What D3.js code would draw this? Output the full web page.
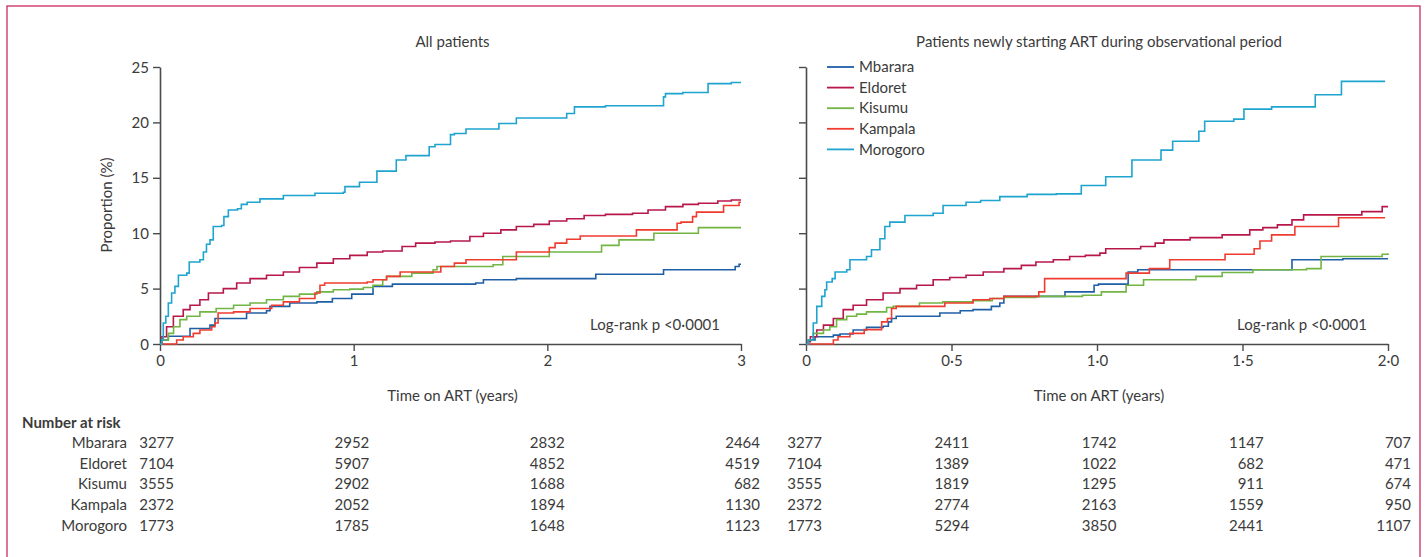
<!DOCTYPE html>
<html>
<head>
<meta charset="utf-8">
<script src="https://cdn.jsdelivr.net/npm/d3@7/dist/d3.min.js"></script>
<style>
  html, body { margin: 0; padding: 0; background: #fff; }
  svg { display: block; }
  text { font-family: Lato, "Open Sans", sans-serif; fill: #3b3b3b; }
</style>
</head>
<body>
<svg id="chart" width="1427" height="557"></svg>
<script>
// ---- Sites ----
const sites = ["Mbarara", "Eldoret", "Kisumu", "Kampala", "Morogoro"];
const siteColors = ["#1f5fa6", "#b8174a", "#72b545", "#f03c30", "#1ea4cf"];

// ---- Cumulative proportion (%) — all patients, time in years ----
const allMbarara = [[0,0],[0.009,0.36],[0.043,0.7],[0.155,1.4],[0.258,1.7],[0.284,2.3],[0.447,2.8],[0.55,3.0],[0.568,3.4],[0.67,3.7],[0.81,3.8],[0.89,4.1],[0.99,4.5],[1.10,5.2],[1.20,5.4],[1.63,5.5],[1.67,5.8],[1.84,5.9],[2.25,6.3],[2.60,6.7],[2.97,7.0],[2.99,7.2],[3.0,7.2]];
const allEldoret = [[0,0],[0.01,0.66],[0.034,1.56],[0.069,2.5],[0.12,3.1],[0.155,3.5],[0.206,4.0],[0.25,4.6],[0.327,5.0],[0.396,5.5],[0.465,5.9],[0.55,6.2],[0.637,6.5],[0.72,6.9],[0.81,7.3],[0.895,7.7],[0.98,8.0],[1.07,8.3],[1.15,8.4],[1.25,8.8],[1.32,9.1],[1.42,9.2],[1.50,9.3],[1.60,9.7],[1.67,10.0],[1.76,10.3],[1.84,10.6],[1.93,10.8],[2.01,11.1],[2.10,11.3],[2.19,11.6],[2.30,11.7],[2.44,11.8],[2.52,12.1],[2.61,12.4],[2.70,12.6],[2.78,12.7],[2.88,12.9],[2.95,13.0],[3.0,13.0]];
const allKisumu = [[0,0],[0.009,0.36],[0.043,0.96],[0.07,1.56],[0.103,2.2],[0.138,2.5],[0.206,2.9],[0.29,3.2],[0.38,3.5],[0.465,3.7],[0.55,4.0],[0.637,4.3],[0.72,4.5],[0.81,4.7],[0.895,4.9],[0.98,4.95],[1.05,5.1],[1.10,5.3],[1.15,5.8],[1.17,6.1],[1.30,6.4],[1.41,6.7],[1.43,7.0],[1.72,7.15],[1.77,7.9],[2.01,8.3],[2.28,8.9],[2.37,9.4],[2.55,10.0],[2.78,10.5],[3.0,10.5]];
const allKampala = [[0,0],[0.086,0.36],[0.12,0.66],[0.172,0.96],[0.206,1.26],[0.267,1.56],[0.284,1.9],[0.30,2.8],[0.38,2.9],[0.465,3.2],[0.577,3.5],[0.637,3.8],[0.72,4.1],[0.80,4.6],[0.826,5.3],[0.85,5.5],[1.07,5.6],[1.10,5.8],[1.17,6.1],[1.24,6.5],[1.45,7.0],[1.52,7.3],[1.58,7.6],[1.84,8.3],[2.01,8.7],[2.04,9.1],[2.10,9.45],[2.17,9.75],[2.46,10.3],[2.67,10.9],[2.69,11.0],[2.75,11.5],[2.77,11.9],[2.91,12.5],[2.99,12.8],[3.0,12.8]];
const allMorogoro = [[0,0],[0.009,0.36],[0.017,1.9],[0.03,2.5],[0.043,3.7],[0.06,4.6],[0.077,5.2],[0.095,6.2],[0.138,6.4],[0.151,7.4],[0.206,7.6],[0.224,8.3],[0.24,9.0],[0.258,9.4],[0.275,10.6],[0.318,10.7],[0.33,11.5],[0.353,12.1],[0.40,12.2],[0.42,12.6],[0.45,12.8],[0.516,13.1],[0.637,13.4],[0.80,13.6],[0.947,13.7],[0.955,14.2],[1.03,14.6],[1.12,15.6],[1.22,16.6],[1.27,17.0],[1.39,17.8],[1.42,18.0],[1.50,18.9],[1.52,19.0],[1.58,19.4],[1.75,19.9],[1.84,20.4],[2.10,20.8],[2.14,21.4],[2.30,21.5],[2.60,22.3],[2.61,22.6],[2.70,22.7],[2.83,23.5],[2.95,23.6],[3.0,23.6]];

// ---- Cumulative proportion (%) — patients newly starting ART ----
const newMbarara = [[0,0],[0.008,0.36],[0.031,0.66],[0.094,0.8],[0.117,0.9],[0.162,1.26],[0.208,1.5],[0.265,1.6],[0.283,2.0],[0.294,2.3],[0.31,2.5],[0.46,2.8],[0.53,3.0],[0.574,3.1],[0.637,3.4],[0.666,3.7],[0.68,4.3],[0.89,4.7],[0.99,5.3],[1.005,5.4],[1.107,6.5],[1.14,6.7],[1.67,7.6],[1.845,7.7],[2.0,7.7]];
const newEldoret = [[0,0],[0.008,0.2],[0.015,0.66],[0.037,1.26],[0.06,1.7],[0.094,2.3],[0.128,3.1],[0.162,3.5],[0.208,4.0],[0.265,4.6],[0.323,5.0],[0.38,5.3],[0.437,5.8],[0.494,6.0],[0.55,6.2],[0.609,6.5],[0.68,6.8],[0.74,7.1],[0.79,7.4],[0.85,7.6],[0.906,7.9],[0.96,8.0],[1.01,8.2],[1.03,8.6],[1.15,8.8],[1.20,9.1],[1.23,9.4],[1.32,9.6],[1.43,9.85],[1.525,10.3],[1.57,10.5],[1.62,10.75],[1.67,11.2],[1.71,11.65],[1.91,11.95],[1.98,12.4],[2.0,12.4]];
const newKisumu = [[0,0],[0.008,0.36],[0.025,0.96],[0.06,1.26],[0.082,1.56],[0.105,2.2],[0.14,2.5],[0.174,2.7],[0.208,2.9],[0.277,3.3],[0.30,3.4],[0.39,3.7],[0.47,3.8],[0.574,3.9],[0.64,4.1],[0.68,4.2],[0.79,4.3],[0.95,4.4],[1.015,4.7],[1.10,5.3],[1.16,5.8],[1.34,6.1],[1.43,6.45],[1.536,6.7],[1.72,6.8],[1.77,7.9],[1.98,8.1],[2.0,8.2]];
const newKampala = [[0,0],[0.094,0.36],[0.11,0.66],[0.151,0.96],[0.2,1.3],[0.26,2.0],[0.28,2.3],[0.294,3.2],[0.31,3.4],[0.477,3.7],[0.574,4.0],[0.632,4.1],[0.68,4.3],[0.80,4.7],[0.82,5.9],[1.10,6.4],[1.18,6.8],[1.25,7.6],[1.44,8.1],[1.54,8.6],[1.56,9.3],[1.60,9.85],[1.68,10.6],[1.83,11.4],[1.99,11.4]];
const newMorogoro = [[0,0],[0.008,0.36],[0.025,1.9],[0.037,3.4],[0.054,4.3],[0.065,4.9],[0.071,5.6],[0.09,5.9],[0.10,6.5],[0.14,6.7],[0.151,7.6],[0.208,7.9],[0.225,8.5],[0.254,9.5],[0.271,10.6],[0.288,11.0],[0.34,11.6],[0.437,11.8],[0.471,12.5],[0.55,12.8],[0.60,12.95],[0.666,13.3],[0.76,13.5],[0.86,13.55],[0.946,14.3],[1.03,15.1],[1.12,16.6],[1.22,17.5],[1.26,18.3],[1.35,19.2],[1.37,20.1],[1.47,20.3],[1.505,21.2],[1.60,21.4],[1.75,22.5],[1.84,23.7],[1.99,23.7]];

// ---- Number at risk ----
const riskTimesAll = [0, 1, 2, 3];
const riskAllMbarara = [3277, 2952, 2832, 2464];
const riskAllEldoret = [7104, 5907, 4852, 4519];
const riskAllKisumu = [3555, 2902, 1688, 682];
const riskAllKampala = [2372, 2052, 1894, 1130];
const riskAllMorogoro = [1773, 1785, 1648, 1123];

const riskTimesNew = [0, 0.5, 1, 1.5, 2];
const riskNewMbarara = [3277, 2411, 1742, 1147, 707];
const riskNewEldoret = [7104, 1389, 1022, 682, 471];
const riskNewKisumu = [3555, 1819, 1295, 911, 674];
const riskNewKampala = [2372, 2774, 2163, 1559, 950];
const riskNewMorogoro = [1773, 5294, 3850, 2441, 1107];

const yTicks = [0, 5, 10, 15, 20, 25];
const xTicksAll = [0, 1, 2, 3];
const xTicksNew = [0, 0.5, 1, 1.5, 2];

// ---- Drawing ----
const svg = d3.select("#chart");
const axisColor = "#4a4a4a";
const fontSize = 15;

// page frame
svg.append("rect")
  .attr("x", 7).attr("y", 6).attr("width", 1413).attr("height", 570)
  .attr("fill", "none").attr("stroke", "#cc2a60").attr("stroke-width", 1.3);

const y = d3.scaleLinear().domain([0, 25]).range([344, 67]);
const decimalTick = d => d === 0 ? "0" : d3.format(".1f")(d).replace(".", "·");

function panel(opts) {
  const x = d3.scaleLinear().domain(opts.domain).range(opts.range);
  const g = svg.append("g");

  // y axis
  const yAxis = d3.axisLeft(y).tickValues(yTicks).tickSize(7).tickSizeOuter(0)
    .tickFormat(opts.yLabels ? d3.format("d") : "");
  const ya = g.append("g").attr("transform", `translate(${opts.range[0]},0)`).call(yAxis);
  // x axis
  const xAxis = d3.axisBottom(x).tickValues(opts.xTicks).tickSize(7).tickSizeOuter(0)
    .tickFormat(opts.tickFormat);
  const xa = g.append("g").attr("transform", `translate(0,${y(0)})`).call(xAxis);

  [ya, xa].forEach(a => {
    a.select(".domain").attr("stroke", axisColor).attr("stroke-width", 1.6);
    a.selectAll(".tick line").attr("stroke", axisColor).attr("stroke-width", 1.4);
    a.selectAll(".tick text").attr("fill", "#3b3b3b")
      .style("font-family", "Lato, sans-serif").style("font-size", fontSize + "px");
  });
  ya.selectAll(".tick text").attr("x", -11).attr("dy", "0.34em");
  xa.selectAll(".tick text").attr("y", 11);

  // step curves
  const line = d3.line().x(d => x(d[0])).y(d => y(d[1])).curve(d3.curveStepAfter);
  opts.curves.forEach((c, i) => {
    g.append("path").datum(c).attr("d", line)
      .attr("fill", "none").attr("stroke", siteColors[i])
      .attr("stroke-width", 1.6).attr("stroke-linejoin", "miter");
  });

  // titles
  const cx = (opts.range[0] + opts.range[1]) / 2;
  g.append("text").attr("x", cx + 2).attr("y", 47).attr("text-anchor", "middle")
    .style("font-size", fontSize + "px").text(opts.title);
  g.append("text").attr("x", cx + 2).attr("y", 401).attr("text-anchor", "middle")
    .style("font-size", fontSize + "px").text("Time on ART (years)");
  g.append("text").attr("x", opts.range[1] - 21).attr("y", 330).attr("text-anchor", "end")
    .style("font-size", fontSize + "px").text("Log-rank p <0·0001");

  // number-at-risk table
  const rx = d3.scaleLinear().domain(opts.domain).range(opts.riskRange);
  opts.risk.forEach((row, i) => {
    g.selectAll(null).data(row).join("text")
      .attr("x", (d, j) => rx(opts.riskTimes[j]))
      .attr("y", 448 + i * 20.7)
      .attr("text-anchor", "end")
      .style("font-size", fontSize + "px")
      .text(d => d);
  });
  return g;
}

panel({
  domain: [0, 3], range: [160, 741], xTicks: xTicksAll, tickFormat: d3.format("d"),
  yLabels: true, title: "All patients",
  curves: [allMbarara, allEldoret, allKisumu, allKampala, allMorogoro],
  riskTimes: riskTimesAll, riskRange: [174, 760],
  risk: [riskAllMbarara, riskAllEldoret, riskAllKisumu, riskAllKampala, riskAllMorogoro]
});

panel({
  domain: [0, 2], range: [806, 1388], xTicks: xTicksNew, tickFormat: decimalTick,
  yLabels: false, title: "Patients newly starting ART during observational period",
  curves: [newMbarara, newEldoret, newKisumu, newKampala, newMorogoro],
  riskTimes: riskTimesNew, riskRange: [822, 1411],
  risk: [riskNewMbarara, riskNewEldoret, riskNewKisumu, riskNewKampala, riskNewMorogoro]
});

// y-axis title
svg.append("text")
  .attr("transform", "translate(112,205) rotate(-90)")
  .attr("text-anchor", "middle")
  .style("font-size", fontSize + "px")
  .text("Proportion (%)");

// legend
const legend = svg.append("g");
sites.forEach((s, i) => {
  const ly = 67 + i * 20.6;
  legend.append("line").attr("x1", 827).attr("x2", 854).attr("y1", ly).attr("y2", ly)
    .attr("stroke", siteColors[i]).attr("stroke-width", 1.8);
  legend.append("text").attr("x", 859).attr("y", ly).attr("dy", "0.35em")
    .style("font-size", fontSize + "px").text(s);
});

// number-at-risk header and row labels
svg.append("text").attr("x", 22).attr("y", 428)
  .style("font-size", fontSize + "px").style("font-weight", "bold").attr("fill", "#222")
  .text("Number at risk");
sites.forEach((s, i) => {
  svg.append("text").attr("x", 127).attr("y", 448 + i * 20.7)
    .attr("text-anchor", "end").style("font-size", fontSize + "px").text(s);
});
</script>
</body>
</html>
